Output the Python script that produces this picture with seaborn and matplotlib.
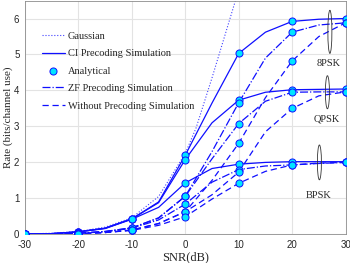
import numpy as np
import pandas as pd
import matplotlib
matplotlib.use("Agg")
import matplotlib.pyplot as plt
import seaborn as sns
from matplotlib.patches import Ellipse

# SNR grids
snr_sim = [-30, -25, -20, -15, -10, -5, 0, 5, 10, 15, 20, 25, 30]
snr_ana = [-30, -20, -10, 0, 10, 20, 30]
snr_gauss = [-30, -25, -20, -15, -10, -5, 0, 2, 5, 10]

# Gaussian input
gauss = [0.01, 0.03, 0.08, 0.2, 0.46, 1.05, 2.25, 2.95, 4.35, 6.8]

# CI precoding simulation
ci_8psk = [0.01, 0.02, 0.07, 0.17, 0.43, 0.9, 2.2, 3.65, 5.03, 5.62, 5.92, 5.98, 6.0]
ci_qpsk = [0.01, 0.02, 0.07, 0.17, 0.43, 0.88, 2.08, 3.1, 3.73, 3.95, 4.02, 4.03, 4.04]
ci_bpsk = [0.01, 0.02, 0.07, 0.16, 0.42, 0.75, 1.43, 1.83, 1.95, 2.0, 2.02, 2.02, 2.02]

# ZF precoding simulation
zf_8psk = [0.0, 0.01, 0.03, 0.08, 0.18, 0.46, 1.06, 2.3, 3.66, 4.9, 5.62, 5.82, 5.88]
zf_qpsk = [0.0, 0.01, 0.03, 0.08, 0.18, 0.45, 1.06, 2.1, 3.08, 3.7, 3.95, 3.96, 3.96]
zf_bpsk = [0.0, 0.01, 0.03, 0.07, 0.17, 0.4, 0.84, 1.45, 1.8, 1.9, 1.93, 1.97, 2.0]

# Without precoding simulation
wo_8psk = [0.0, 0.01, 0.02, 0.05, 0.12, 0.3, 0.63, 1.5, 2.53, 3.8, 4.82, 5.5, 5.88]
wo_qpsk = [0.0, 0.01, 0.02, 0.05, 0.12, 0.3, 0.63, 1.1, 1.73, 2.85, 3.5, 3.85, 3.96]
wo_bpsk = [0.0, 0.01, 0.02, 0.05, 0.11, 0.25, 0.49, 0.98, 1.42, 1.75, 1.93, 1.98, 2.0]

# analytical points (same curves, 10 dB steps)
ana_idx = [snr_sim.index(s) for s in snr_ana]

blue = "#0f0fff"
cyan = "#00e5ff"
serif = ["Liberation Serif", "DejaVu Serif"]

sns.set_style("whitegrid", {"grid.color": "#e3e3e3", "axes.edgecolor": "#8c8c8c"})
plt.rcParams["font.family"] = ["Liberation Sans", "DejaVu Sans"]
plt.rcParams["axes.unicode_minus"] = False

fig = plt.figure(figsize=(3.5, 2.63), dpi=100)
ax = fig.add_axes([0.0714, 0.109, 0.916, 0.889])

sns.lineplot(x=snr_gauss, y=gauss, color=blue, linestyle=":", linewidth=0.8,
             alpha=0.8, ax=ax, label="Gaussian")

styles = [("-", "CI Precoding Simulation", [ci_8psk, ci_qpsk, ci_bpsk]),
          ("-.", "ZF Precoding Simulation", [zf_8psk, zf_qpsk, zf_bpsk]),
          ((0, (5, 3)), "Without Precoding Simulation", [wo_8psk, wo_qpsk, wo_bpsk])]

for ls, name, curves in styles:
    for i, c in enumerate(curves):
        sns.lineplot(x=snr_sim, y=c, color=blue, linestyle=ls, linewidth=0.9,
                     ax=ax, label=name if i == 0 else None)

# analytical markers
all_curves = [ci_8psk, ci_qpsk, ci_bpsk, zf_8psk, zf_qpsk, zf_bpsk, wo_8psk, wo_qpsk, wo_bpsk]
for i, c in enumerate(all_curves):
    sns.scatterplot(x=snr_ana, y=[c[j] for j in ana_idx], color=cyan, edgecolor=blue,
                    linewidth=0.7, s=26, zorder=5, ax=ax,
                    label="Analytical" if i == 0 else None)

# ellipses + modulation labels
for (cx, cy, h), (tx, ty, txt) in zip([(27.06, 5.63, 1.2), (26.6, 3.95, 0.92), (25.1, 2.0, 0.97)],
                                      [(26.8, 4.76, "8PSK"), (26.4, 3.22, "QPSK"), (24.9, 1.09, "BPSK")]):
    ax.add_patch(Ellipse((cx, cy), 0.75, h, fill=False, edgecolor="#333333", linewidth=0.6, zorder=6))
    ax.text(tx, ty, txt, fontsize=7.5, ha="center", va="center", family=serif)

ax.set_xlim(-30, 30)
ax.set_ylim(0, 6.5)
ax.set_xticks([-30, -20, -10, 0, 10, 20, 30])
ax.set_yticks([0, 1, 2, 3, 4, 5, 6])
ax.tick_params(labelsize=7, colors="#262626", length=2, direction="in", pad=4)
ax.set_xlabel("SNR(dB)", fontsize=9, labelpad=1, family=serif)
ax.set_ylabel("Rate (bits/channel use)", fontsize=8, labelpad=1, family=serif)
for sp in ax.spines.values():
    sp.set_linewidth(0.6)

h, l = ax.get_legend_handles_labels()
order = ["Gaussian", "CI Precoding Simulation", "Analytical", "ZF Precoding Simulation",
         "Without Precoding Simulation"]
hd = dict(zip(l, h))
ax.legend([hd[k] for k in order], order, loc="upper left", bbox_to_anchor=(0.04, 0.885),
          frameon=False, prop={"family": serif, "size": 7.5}, handlelength=2.2,
          handletextpad=0.3, labelspacing=0.78, borderaxespad=0)

fig.savefig("out.png", dpi=100)
